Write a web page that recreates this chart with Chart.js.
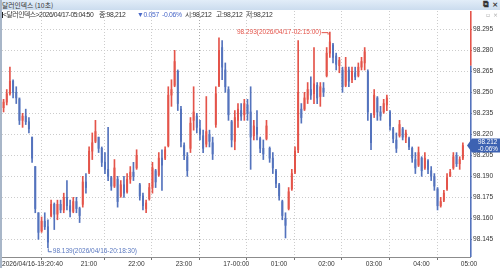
<!DOCTYPE html>
<html><head><meta charset="utf-8">
<script src="https://cdn.jsdelivr.net/npm/chart.js@4.4.1/dist/chart.umd.min.js"></script>
<style>
html,body{margin:0;padding:0;background:#fff;overflow:hidden}
#wrap{position:relative;width:500px;height:268px;overflow:hidden}
#c{position:absolute;left:0;top:0}
#title{position:absolute;left:0;top:0;width:500px;height:10px;background:linear-gradient(#e2edf8,#cbdcee);}
#title .t{position:absolute;left:2px;top:0px;font:6.8px 'Noto Sans CJK KR',sans-serif;line-height:10px;color:#333;white-space:nowrap}
#title .ic{position:absolute;top:0;line-height:10px;font:bold 7.5px 'DejaVu Sans',sans-serif;color:#333}
#info{position:absolute;left:0;top:10px;width:470px;height:10px;font:6.8px 'Liberation Sans','Noto Sans CJK KR',sans-serif;letter-spacing:-0.3px;color:#333;white-space:nowrap}
#info span{position:absolute;top:0;line-height:10px}
#info .first{letter-spacing:-0.45px}
#info .dn{color:#4a68c8}
#info .bar{left:1px;top:2px;width:1.5px;height:6px;background:#222}
#lb{position:absolute;left:0;top:0;width:1.5px;height:268px;background:#a8b6c8}
.mini{position:absolute;top:11px;font:6px 'DejaVu Sans',sans-serif;color:#aaa;line-height:8px}
</style></head>
<body><div id="wrap">
<canvas id="c" width="500" height="268"></canvas>
<div id="title"><span class="t">달러인덱스 (10초)</span><span class="ic" style="left:483px">⧉</span><span class="ic" style="left:492px">×</span></div>
<div id="info"></div>
<span class="mini" style="left:486px">▫</span><span class="mini" style="left:493px">×</span>
<div id="lb"></div>
</div>
<script>
// ---- data (4-minute buckets starting 2026/04/16 19:20:40) ----
const startLabel = '2026/04/16-19:20:40';
const bucketMinutes = 4;
const opens = [98.239,98.243,98.249,98.258,98.250,98.246,98.230,98.233,98.229,98.218,
98.197,98.164,98.151,98.158,98.154,98.162,98.170,98.163,98.170,98.166,
98.175,98.169,98.165,98.172,98.167,98.170,98.186,98.193,98.208,98.215,
98.218,98.210,98.200,98.195,98.189,98.183,98.188,98.176,98.184,98.179,
98.188,98.193,98.196,98.184,98.176,98.167,98.174,98.182,98.194,98.191,
98.203,98.203,98.212,98.248,98.255,98.265,98.238,98.212,98.204,98.210,
98.230,98.233,98.224,98.219,98.213,98.220,98.214,98.227,98.255,98.282,
98.266,98.252,98.229,98.215,98.230,98.237,98.234,98.241,98.236,98.219,
98.225,98.217,98.210,98.217,98.210,98.203,98.194,98.184,98.172,98.160,
98.167,98.181,98.193,98.209,98.238,98.238,98.245,98.252,98.249,98.255,
98.247,98.253,98.262,98.278,98.284,98.276,98.269,98.266,98.255,98.266,
98.259,98.264,98.262,98.268,98.271,98.265,98.234,98.234,98.246,98.236,
98.236,98.241,98.236,98.224,98.216,98.219,98.224,98.218,98.217,98.210,
98.202,98.198,98.203,98.196,98.201,98.194,98.190,98.181,98.169,98.173,
98.181,98.190,98.196,98.205,98.199,98.203];
const highs = [98.245,98.252,98.268,98.259,98.254,98.245,98.235,98.238,98.232,98.218,
98.197,98.164,98.161,98.164,98.159,98.173,98.171,98.173,98.173,98.178,
98.187,98.173,98.175,98.175,98.168,98.190,98.192,98.211,98.221,98.230,
98.218,98.211,98.207,98.225,98.190,98.202,98.190,98.187,98.190,98.192,
98.197,98.200,98.209,98.185,98.178,98.173,98.185,98.200,98.195,98.207,
98.209,98.211,98.254,98.259,98.280,98.266,98.240,98.214,98.207,98.232,
98.254,98.235,98.230,98.223,98.247,98.223,98.218,98.254,98.289,98.287,
98.271,98.254,98.230,98.237,98.242,98.242,98.245,98.245,98.254,98.230,
98.237,98.218,98.216,98.230,98.211,98.207,98.195,98.185,98.173,98.164,
98.182,98.195,98.211,98.287,98.242,98.250,98.257,98.261,98.282,98.257,
98.257,98.257,98.282,98.293,98.285,98.278,98.275,98.268,98.275,98.268,
98.268,98.268,98.271,98.275,98.282,98.266,98.235,98.252,98.247,98.240,
98.245,98.248,98.237,98.225,98.221,98.230,98.225,98.223,98.218,98.211,
98.207,98.211,98.204,98.207,98.202,98.197,98.192,98.182,98.175,98.180,
98.192,98.195,98.207,98.207,98.204,98.214];
const lows = [98.236,98.241,98.248,98.246,98.242,98.227,98.225,98.227,98.221,98.200,
98.164,98.145,98.150,98.152,98.139,98.161,98.152,98.159,98.164,98.164,
98.166,98.161,98.164,98.164,98.157,98.168,98.178,98.192,98.202,98.214,
98.207,98.197,98.192,98.187,98.180,98.182,98.168,98.175,98.175,98.178,
98.185,98.187,98.195,98.173,98.166,98.164,98.173,98.178,98.182,98.190,
98.180,98.202,98.211,98.240,98.254,98.237,98.211,98.202,98.190,98.207,
98.223,98.221,98.216,98.207,98.211,98.211,98.202,98.225,98.254,98.259,
98.250,98.230,98.211,98.209,98.225,98.230,98.230,98.230,98.195,98.216,
98.216,98.207,98.202,98.216,98.200,98.192,98.182,98.173,98.159,98.146,
98.166,98.180,98.192,98.207,98.228,98.237,98.242,98.245,98.242,98.242,
98.240,98.247,98.261,98.275,98.271,98.266,98.264,98.250,98.254,98.254,
98.257,98.259,98.261,98.266,98.266,98.230,98.209,98.232,98.230,98.230,
98.235,98.237,98.223,98.214,98.207,98.218,98.216,98.214,98.209,98.200,
98.192,98.197,98.190,98.195,98.192,98.187,98.180,98.166,98.168,98.172,
98.180,98.190,98.195,98.197,98.195,98.202];
const closes = [98.243,98.249,98.258,98.250,98.246,98.230,98.233,98.229,98.224,98.203,
98.167,98.150,98.158,98.154,98.143,98.170,98.163,98.170,98.166,98.175,
98.169,98.165,98.172,98.167,98.162,98.186,98.182,98.208,98.214,98.222,
98.210,98.200,98.195,98.190,98.183,98.196,98.172,98.184,98.178,98.188,
98.193,98.190,98.205,98.176,98.169,98.171,98.182,98.196,98.186,98.203,
98.198,98.209,98.248,98.252,98.272,98.242,98.215,98.205,98.194,98.228,
98.236,98.225,98.220,98.210,98.222,98.215,98.206,98.249,98.280,98.268,
98.254,98.234,98.216,98.232,98.238,98.233,98.242,98.235,98.218,98.226,
98.220,98.210,98.206,98.226,98.203,98.196,98.185,98.176,98.162,98.155,
98.179,98.192,98.208,98.250,98.232,98.246,98.252,98.248,98.256,98.246,
98.254,98.250,98.278,98.286,98.275,98.270,98.273,98.254,98.268,98.258,
98.265,98.261,98.268,98.272,98.279,98.236,98.214,98.248,98.236,98.233,
98.242,98.246,98.226,98.217,98.210,98.227,98.218,98.221,98.211,98.203,
98.196,98.207,98.194,98.203,98.195,98.190,98.183,98.169,98.172,98.178,
98.189,98.193,98.204,98.199,98.202,98.212];
const prevClose = 98.269;
const lastStamp = '2026/04/17-05:04:50';
const lastOHL = [98.212, 98.212, 98.212];
// x tick positions: minutes after 19:20:40, and their labels
const xTickMinutes = [0, 99.333, 159.333, 219.333, 279.333, 339.333, 399.333, 459.333, 519.333, 579.333];
const xTickLabels = [startLabel, '21:00', '22:00', '23:00', '17-00:00', '01:00', '02:00', '03:00', '04:00', '05:00'];
const yTicks = [98.145, 98.160, 98.175, 98.190, 98.205, 98.220, 98.235, 98.250, 98.265, 98.280, 98.295];
const extremeLabels = { max: '2026/04/17-02:15:00', min: '2026/04/16-20:18:30' };
const extremeMinutes = { max: 414.333, min: 57.833 };

// ---- rendering ----
const RED = '#e4544a', BLUE = '#5473bd';
const xs = closes.map((_, i) => i * bucketMinutes + bucketMinutes / 2);
const col = closes.map((c, i) => c >= opens[i] ? RED : BLUE);
const FONT = "'Liberation Sans',Arial,sans-serif";
const fmt = v => v.toFixed(3);

// info line
const last = closes[closes.length - 1];
const chg = last - prevClose;
const pct = chg / prevClose * 100;
const info = document.getElementById('info');
const parts = [
  ['bar', '', null],
  ['first', '<달러인덱스>' + lastStamp, 3],
  ['', '종:' + last.toFixed(3).replace('.', ','), 99],
  ['dn', (chg < 0 ? '▼' : '▲') + Math.abs(chg).toFixed(3), 137],
  ['dn', (pct < 0 ? '-' : '') + Math.abs(pct).toFixed(2) + '%', 162],
  ['', '시:' + lastOHL[0].toFixed(3).replace('.', ','), 185],
  ['', '고:' + lastOHL[1].toFixed(3).replace('.', ','), 216],
  ['', '저:' + lastOHL[2].toFixed(3).replace('.', ','), 246]
];
parts.forEach(([cls, txt, left]) => {
  const s = document.createElement('span');
  if (cls) s.className = cls;
  s.textContent = txt;
  if (left !== null) s.style.left = left + 'px';
  info.appendChild(s);
});

const overlay = {
  id: 'overlay',
  afterDatasetsDraw(chart) {
    const { ctx, chartArea: a, scales: { x, y } } = chart;
    ctx.save();
    // right axis line: red above previous close, blue below
    const py = y.getPixelForValue(prevClose);
    ctx.lineWidth = 1.6;
    ctx.strokeStyle = RED;
    ctx.beginPath(); ctx.moveTo(a.right + 0.8, a.top); ctx.lineTo(a.right + 0.8, py); ctx.stroke();
    ctx.strokeStyle = BLUE;
    ctx.beginPath(); ctx.moveTo(a.right + 0.8, py); ctx.lineTo(a.right + 0.8, a.bottom); ctx.stroke();

    // max annotation
    const hi = Math.max(...highs), lo = Math.min(...lows);
    const mx = x.getPixelForValue(extremeMinutes.max), my = y.getPixelForValue(hi);
    ctx.font = '6.5px ' + FONT;
    ctx.fillStyle = RED; ctx.strokeStyle = RED; ctx.lineWidth = 1;
    ctx.textAlign = 'right'; ctx.textBaseline = 'middle';
    ctx.fillText(fmt(hi) + '(' + extremeLabels.max + ')', mx - 9, my + 0.5);
    ctx.beginPath(); ctx.moveTo(mx - 8.5, my + 0.5); ctx.lineTo(mx - 2, my + 0.5); ctx.lineTo(mx - 2, my + 2.5); ctx.stroke();

    // min annotation
    const nx = x.getPixelForValue(extremeMinutes.min), ny = y.getPixelForValue(lo);
    ctx.fillStyle = '#5a78c0'; ctx.strokeStyle = '#5a78c0';
    ctx.beginPath(); ctx.moveTo(nx + 0.5, ny + 0.5); ctx.lineTo(nx + 0.5, ny + 4); ctx.lineTo(nx + 4, ny + 4); ctx.stroke();
    ctx.textAlign = 'left';
    ctx.fillText(fmt(lo) + '(' + extremeLabels.min + ')', nx + 5, ny + 3.5);

    // current price box
    const cy = y.getPixelForValue(last);
    const bx = a.right + 2;
    ctx.fillStyle = '#3d62b2';
    ctx.beginPath();
    ctx.moveTo(bx - 5, cy);
    ctx.lineTo(bx, cy - 7);
    ctx.lineTo(500, cy - 7);
    ctx.lineTo(500, cy + 7);
    ctx.lineTo(bx, cy + 7);
    ctx.closePath(); ctx.fill();
    ctx.fillStyle = '#fff';
    ctx.font = '6.3px ' + FONT;
    ctx.textAlign = 'left';
    ctx.fillText(fmt(last), bx + 6, cy - 3);
    ctx.fillText((pct < 0 ? '-' : '') + Math.abs(pct).toFixed(2) + '%', bx + 6, cy + 3.5);
    ctx.restore();
  }
};

new Chart(document.getElementById('c'), {
  type: 'bar',
  data: {
    datasets: [
      {
        data: xs.map((xv, i) => ({ x: xv, y: [lows[i], highs[i]] })),
        backgroundColor: col, borderWidth: 0, barThickness: 1, grouped: false
      },
      {
        data: xs.map((xv, i) => ({ x: xv, y: [opens[i], closes[i]] })),
        backgroundColor: col, borderWidth: 0, barThickness: 1.3, grouped: false, minBarLength: 1
      }
    ]
  },
  options: {
    responsive: false, animation: false, devicePixelRatio: 1,
    layout: { padding: { left: 2, top: 11, right: 0, bottom: 0 } },
    plugins: { legend: { display: false }, tooltip: { enabled: false } },
    scales: {
      x: {
        type: 'linear', min: 0, max: 591, offset: false,
        afterBuildTicks: s => { s.ticks = xTickMinutes.map(v => ({ value: v })); },
        afterFit: s => { s.height = 11; },
        grid: {
          color: c => c.index === 4 ? '#aaaaaa' : '#cccccc', lineWidth: 1,
          tickLength: 3, tickColor: '#777', tickBorderDash: []
        },
        border: { display: true, color: '#8c8c8c', dash: [1, 2] },
        ticks: {
          autoSkip: false, maxRotation: 0, align: 'start', padding: 0,
          color: '#333', font: { family: FONT, size: 6.6 },
          callback: (v, i) => xTickLabels[i]
        }
      },
      y: {
        position: 'right', min: 98.1324, max: 98.3081,
        afterBuildTicks: s => { s.ticks = yTicks.map(v => ({ value: v })); },
        afterFit: s => { s.width = 30; },
        grid: { color: '#cccccc', lineWidth: 1, tickLength: 2, tickColor: '#777', tickBorderDash: [] },
        border: { display: false, dash: [1, 2] },
        ticks: {
          padding: 1, color: '#333', font: { family: FONT, size: 6.6 },
          callback: v => fmt(v)
        }
      }
    }
  },
  plugins: [overlay]
});
</script>
</body></html>
